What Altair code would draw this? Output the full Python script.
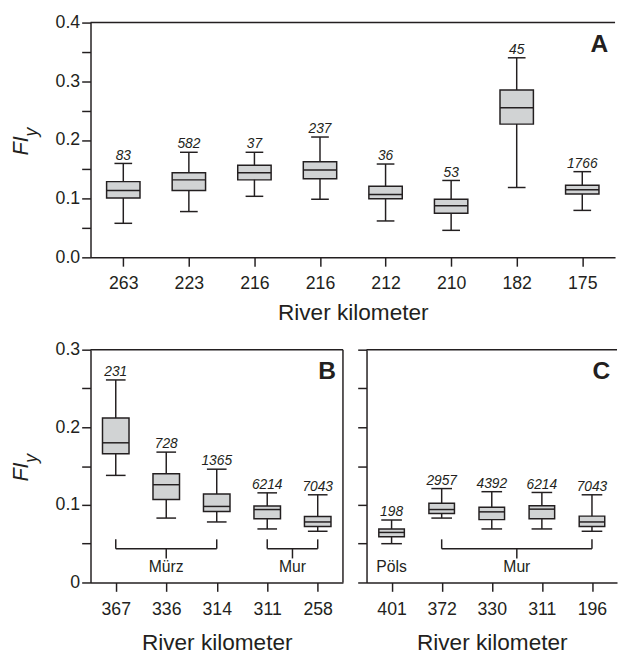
import json
import altair as alt
import pandas as pd

# ---------------- data ----------------
A_km = ["263", "223", "216", "216", "212", "210", "182", "175"]
A_n = [83, 582, 37, 237, 36, 53, 45, 1766]
A_lo = [0.058, 0.078, 0.104, 0.099, 0.062, 0.046, 0.119, 0.080]
A_q1 = [0.101, 0.114, 0.132, 0.134, 0.100, 0.075, 0.227, 0.108]
A_med = [0.114, 0.132, 0.144, 0.149, 0.107, 0.088, 0.255, 0.115]
A_q3 = [0.129, 0.144, 0.157, 0.163, 0.121, 0.099, 0.285, 0.123]
A_hi = [0.160, 0.179, 0.179, 0.205, 0.159, 0.131, 0.340, 0.146]

B_km = ["367", "336", "314", "311", "258"]
B_n = [231, 728, 1365, 6214, 7043]
B_lo = [0.138, 0.083, 0.078, 0.069, 0.066]
B_q1 = [0.166, 0.107, 0.0915, 0.082, 0.072]
B_med = [0.180, 0.126, 0.098, 0.094, 0.078]
B_q3 = [0.212, 0.140, 0.114, 0.0986, 0.085]
B_hi = [0.261, 0.168, 0.146, 0.1155, 0.113]
B_groups = ["Mürz", "Mur"]
B_start = [0, 3]
B_end = [2, 4]

C_km = ["401", "372", "330", "311", "196"]
C_n = [198, 2957, 4392, 6214, 7043]
C_lo = [0.050, 0.083, 0.069, 0.069, 0.066]
C_q1 = [0.059, 0.089, 0.081, 0.082, 0.072]
C_med = [0.0645, 0.094, 0.091, 0.0945, 0.078]
C_q3 = [0.069, 0.102, 0.097, 0.099, 0.0855]
C_hi = [0.0805, 0.121, 0.117, 0.116, 0.113]
C_groups = ["Pöls", "Mur"]
C_start = [0, 1]
C_end = [0, 4]

A_ticks = [0.0, 0.05, 0.1, 0.15, 0.2, 0.25, 0.3, 0.35, 0.4]
BC_ticks = [0.0, 0.05, 0.1, 0.15, 0.2, 0.25, 0.3]

INK = "#231f20"
FILL = "#d1d3d4"
FONT = "Liberation Sans"


def panel(km, n, lo, q1, med, q3, hi, *, width, height, ymax, yticks,
          ylabel_mode, letter, box_w, cap_w, lab_pad, title_pad,
          groups=None, right_border=False, show_ytitle=True):
    df = pd.DataFrame({"pos": list(range(len(km))), "km": km, "n": [str(v) for v in n],
                       "lo": lo, "q1": q1, "med": med, "q3": q3, "hi": hi})
    xscale = alt.Scale(domain=[-0.5, len(km) - 0.5], nice=False, zero=False)
    xaxis = alt.Axis(values=list(range(len(km))),
                     labelExpr=json.dumps(km) + "[datum.value]",
                     title="River kilometer", grid=False,
                     labelPadding=lab_pad, titlePadding=title_pad)
    yscale = alt.Scale(domain=[0, ymax], nice=False, zero=True)
    major = "abs(datum.value*10 - round(datum.value*10)) < 0.000001"
    if ylabel_mode == "dec":
        yaxis = alt.Axis(values=yticks, title=None, grid=False,
                         labelExpr=f"{major} ? format(datum.value, '.1f') : ''")
    elif ylabel_mode == "zero":
        yaxis = alt.Axis(values=yticks, title=None, grid=False,
                         labelExpr=f"{major} ? (datum.value == 0 ? '0' : format(datum.value, '.1f')) : ''")
    else:
        yaxis = alt.Axis(values=yticks, title=None, grid=False, labels=False)

    def X(f):
        return alt.X(f, scale=xscale, axis=xaxis)

    def X2(f):
        return alt.X2(f)

    def Y(f):
        return alt.Y(f, scale=yscale, axis=yaxis)

    def YD(v):
        return alt.YDatum(v, type="quantitative", scale=yscale, axis=yaxis)

    base = alt.Chart(df)
    layers = [
        base.mark_rule(color=INK, strokeWidth=1.5).encode(x=X("pos:Q"), y=Y("lo:Q"), y2="hi:Q"),
        base.mark_rect(fill=FILL, stroke=INK, strokeWidth=1.5,
                       xOffset=-box_w / 2, x2Offset=box_w / 2).encode(
            x=X("pos:Q"), x2=X2("pos:Q"), y=Y("q1:Q"), y2="q3:Q"),
        base.mark_rule(color=INK, strokeWidth=1.5, xOffset=-box_w / 2, x2Offset=box_w / 2).encode(
            x=X("pos:Q"), x2=X2("pos:Q"), y=Y("med:Q")),
        base.mark_rule(color=INK, strokeWidth=1.5, xOffset=-cap_w / 2, x2Offset=cap_w / 2).encode(
            x=X("pos:Q"), x2=X2("pos:Q"), y=Y("hi:Q")),
        base.mark_rule(color=INK, strokeWidth=1.5, xOffset=-cap_w / 2, x2Offset=cap_w / 2).encode(
            x=X("pos:Q"), x2=X2("pos:Q"), y=Y("lo:Q")),
        base.mark_text(font=FONT, fontStyle="italic", fontSize=14, color=INK,
                       baseline="alphabetic", dy=-4).encode(
            x=X("pos:Q"), y=Y("hi:Q"), text="n:N"),
    ]

    one = alt.Data(values=[{"k": 1}])
    # frame lines
    layers.append(alt.Chart(one).mark_rule(color=INK, strokeWidth=1.5).encode(
        x=alt.value(0), x2=alt.value(width), y=alt.value(0)))
    if right_border:
        layers.append(alt.Chart(one).mark_rule(color=INK, strokeWidth=1.5).encode(
            x=alt.value(width), y=alt.value(0), y2=alt.value(height)))
    # panel letter
    layers.append(alt.Chart(one).mark_text(font=FONT, fontWeight="bold", fontSize=25, color=INK,
                                           align="right", baseline="alphabetic").encode(
        x=alt.value(width - 7), y=alt.value(30), text=alt.value(letter)))
    # y title  FI with subscript y
    if show_ytitle:
        layers.append(alt.Chart(one).mark_text(font=FONT, fontStyle="italic", fontSize=22, color=INK,
                                               angle=270, align="center", baseline="alphabetic").encode(
            x=alt.value(-64), y=alt.value(height / 2 + 6), text=alt.value("FI")))
        layers.append(alt.Chart(one).mark_text(font=FONT, fontStyle="italic", fontSize=18, color=INK,
                                               angle=270, align="center", baseline="alphabetic").encode(
            x=alt.value(-54), y=alt.value(height / 2 - 8), text=alt.value("y")))
    # river brackets
    if groups is not None:
        gname, gs, ge = groups
        gdf = pd.DataFrame({"g": gname, "s": gs, "e": ge})
        gb = alt.Chart(gdf).transform_calculate(m="(datum.s + datum.e) / 2")
        br = gb.transform_filter("datum.e > datum.s")
        layers += [
            br.mark_rule(color=INK, strokeWidth=1.5).encode(x=X("s:Q"), x2=X2("e:Q"), y=YD(0.0435)),
            br.mark_rule(color=INK, strokeWidth=1.5).encode(x=X("s:Q"), y=YD(0.0435), y2=alt.Y2Datum(0.0556)),
            br.mark_rule(color=INK, strokeWidth=1.5).encode(x=X("e:Q"), y=YD(0.0435), y2=alt.Y2Datum(0.0556)),
            br.mark_rule(color=INK, strokeWidth=1.5).encode(x=X("m:Q"), y=YD(0.0435), y2=alt.Y2Datum(0.031)),
            gb.mark_text(font=FONT, fontSize=16, color=INK, baseline="middle").encode(
                x=X("m:Q"), y=YD(0.020), text="g:N"),
        ]
    return alt.layer(*layers).properties(width=width, height=height)


pA = panel(A_km, A_n, A_lo, A_q1, A_med, A_q3, A_hi, width=534, height=239, ymax=0.4,
           yticks=A_ticks, ylabel_mode="dec", letter="A", box_w=34, cap_w=18,
           lab_pad=9, title_pad=9)
pB = panel(B_km, B_n, B_lo, B_q1, B_med, B_q3, B_hi, width=257, height=237, ymax=0.3,
           yticks=BC_ticks, ylabel_mode="zero", letter="B", box_w=27, cap_w=20,
           lab_pad=10, title_pad=13, groups=(B_groups, B_start, B_end), right_border=True)
pC = panel(C_km, C_n, C_lo, C_q1, C_med, C_q3, C_hi, width=255, height=237, ymax=0.3,
           yticks=BC_ticks, ylabel_mode="none", letter="C", box_w=26, cap_w=21,
           lab_pad=10, title_pad=13, groups=(C_groups, C_start, C_end), show_ytitle=False)

row = alt.hconcat(pB, pC, spacing=13)
chart = alt.vconcat(pA, row, spacing=17).properties(
    padding={"left": 2, "top": 0, "right": 0, "bottom": -4}
).configure_view(stroke=None).configure_axis(
    domainColor=INK, domainWidth=1.5, tickColor=INK, tickWidth=1.5, tickSize=9,
    labelFont=FONT, labelFontSize=18, labelColor=INK,
    titleFont=FONT, titleFontSize=23, titleFontWeight="normal", titleColor=INK,
)

chart.save("out.html", embed_options={"renderer": "svg", "actions": False})
